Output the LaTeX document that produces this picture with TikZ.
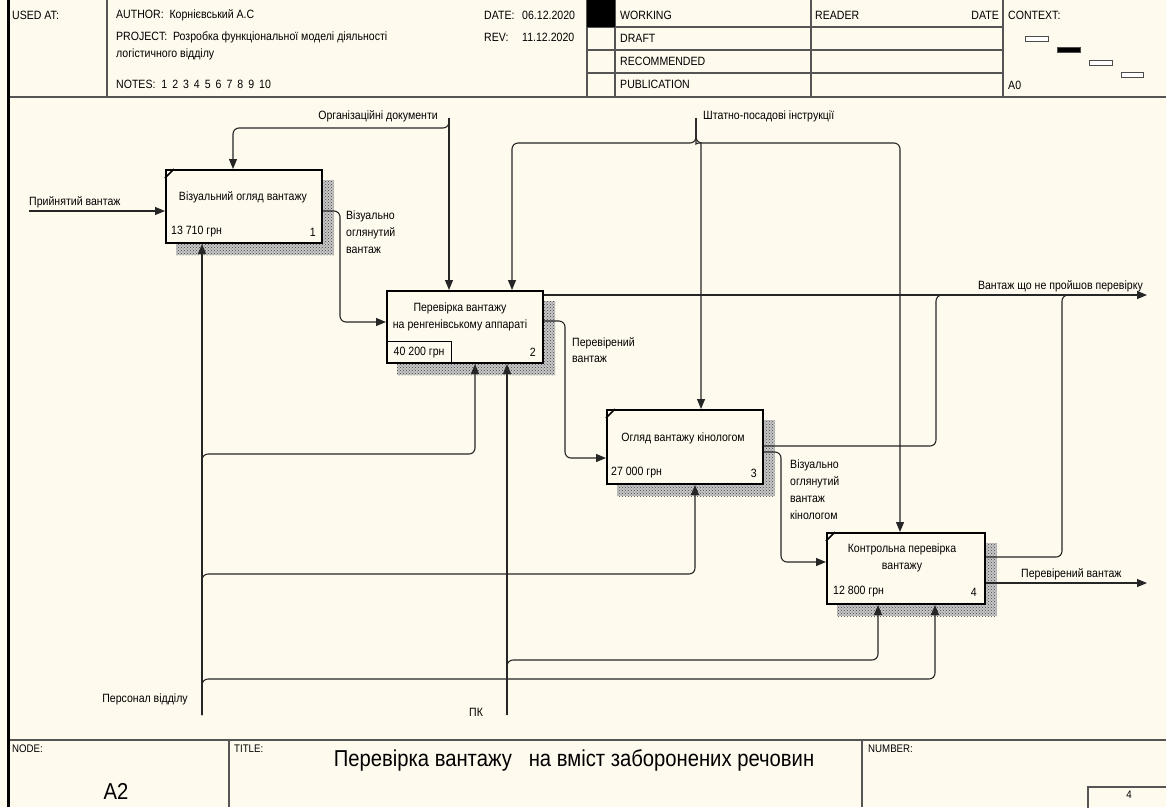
\documentclass[tikz,border=0pt]{standalone}
\usepackage{fontspec}
\setmainfont{Liberation Sans}[FakeStretch=0.88]
\usetikzlibrary{arrows.meta,calc,patterns}
\definecolor{paper}{RGB}{255,250,238}
\definecolor{rule}{RGB}{85,85,85}
\pgfdeclarelayer{bg}
\pgfdeclarelayer{back}
\pgfsetlayers{bg,back,main}

\begin{document}
\begin{tikzpicture}[x=1pt,y=-1pt,
  txt/.style={inner sep=0pt, font=\fontsize{12}{16.7}\selectfont, text=black},
  hdr/.style={inner sep=0pt, font=\fontsize{12}{14}\selectfont, anchor=west},
  act/.style={draw, line width=2pt, fill=paper, inner sep=0pt, anchor=north west},
  frame/.style={draw=rule, line width=1.3pt},
  con/.style={line width=1.1pt, draw=black!85, rounded corners=6pt},
  arr/.style={con, -{Triangle[length=10pt,width=8pt]}},
  mini/.style={draw=black!70, line width=0.8pt}
]
\begin{pgfonlayer}{bg}
  \fill[paper] (0,0) rectangle (1166,807);
\end{pgfonlayer}
\useasboundingbox (0,0) rectangle (1166,807);

% ---------- header frame ----------
\draw[frame] (8,97) -- (1166,97);
\foreach \xx in {107,587,615,811,1003} \draw[frame] (\xx,0) -- (\xx,97);
\foreach \yy in {27,50,73} \draw[frame] (587,\yy) -- (1003,\yy);
\fill[black] (587,0) rectangle (615,27);

\node[hdr] (usedat) at (12,15) {USED AT:};
\node[hdr] (author) at (116,15) {AUTHOR:\ \ Корнієвський А.С};
\node[hdr] (project) at (116,37) {PROJECT:\ \ Розробка функціональної моделі діяльності};
\node[hdr] (project2) at (116,54) {логістичного відділу};
\node[hdr] (notes) at (116,84) {NOTES:\ \ 1\hspace{5pt}2\hspace{5pt}3\hspace{5pt}4\hspace{5pt}5\hspace{5pt}6\hspace{5pt}7\hspace{5pt}8\hspace{5pt}9\hspace{5pt}10};
\node[hdr] (datek) at (484,15) {DATE:};
\node[hdr] (datev) at (522,15) {06.12.2020};
\node[hdr] (revk) at (484,37) {REV:};
\node[hdr] (revv) at (522,37) {11.12.2020};
\node[hdr] (working) at (620,15) {WORKING};
\node[hdr] (draft) at (620,38) {DRAFT};
\node[hdr] (recomm) at (620,61) {RECOMMENDED};
\node[hdr] (public) at (620,84) {PUBLICATION};
\node[hdr] (reader) at (815,15) {READER};
\node[hdr, anchor=east] (rdate) at (999,15) {DATE};
\node[hdr] (context) at (1008,15) {CONTEXT:};
\node[hdr] (azero) at (1008,85) {A0};
\draw[mini, fill=white] (1025,36) rectangle (1048,41);
\draw[mini, fill=black] (1057,47) rectangle (1080,52);
\draw[mini, fill=white] (1089,60) rectangle (1112,65);
\draw[mini, fill=white] (1121,72) rectangle (1143,77);

% ---------- footer frame ----------
\draw[frame] (8,740) -- (1166,740);
\draw[frame] (229,740) -- (229,807);
\draw[frame] (862,740) -- (862,807);
\draw[frame] (1088,787) rectangle (1170,812);
\node[hdr, font=\fontsize{11}{13}\selectfont] (nodek) at (12,749) {NODE:};
\node[hdr, font=\fontsize{11}{13}\selectfont] (titlek) at (234,749) {TITLE:};
\node[hdr, font=\fontsize{11}{13}\selectfont] (numk) at (868,749) {NUMBER:};
\node[inner sep=0pt, font=\fontsize{23}{26}\selectfont] (nodev) at (116,791) {A2};
\node[inner sep=0pt, font=\fontsize{23}{26}\selectfont] (title) at (574,760) {Перевірка вантажу\ \ \ на вміст заборонених речовин};
\node[inner sep=0pt, font=\fontsize{11}{13}\selectfont] (numv) at (1129,795) {4};

% left border
\draw[line width=3pt] (8,0) -- (8,807);

% ---------- activities ----------
\node[act, minimum width=156pt, minimum height=73pt] (b1) at (165,169) {};
\node[act, minimum width=156pt, minimum height=72pt] (b2) at (386,290) {};
\node[act, minimum width=156pt, minimum height=74pt] (b3) at (606,409) {};
\node[act, minimum width=158pt, minimum height=71pt] (b4) at (826,532) {};

\begin{pgfonlayer}{back}
  \foreach \b in {b1,b2,b3,b4} {
    \fill[black!22] ($(\b.north west)+(11,11)$) rectangle ($(\b.south east)+(11,11)$);
    \fill[pattern=crosshatch dots, pattern color=black!75] ($(\b.north west)+(11,11)$) rectangle ($(\b.south east)+(11,11)$);
  }
\end{pgfonlayer}

\foreach \b in {b1,b3,b4}
  \draw[line width=1.5pt] ($(\b.north west)+(0,9)$) -- ($(\b.north west)+(9,0)$);

\node[txt] (b1t) at (243,197) {Візуальний огляд вантажу};
\node[txt, anchor=west] (b1c) at (171,232) {13 710 грн};
\node[txt, anchor=east] (b1n) at (316,232) {1};

\node[txt, align=center] (b2t) at (460,317) {Перевірка вантажу\\на ренгенівському аппараті};
\node[txt, draw, line width=1.2pt, anchor=south west, minimum width=65pt, minimum height=22pt] (b2c) at (b2.south west) {40 200 грн};
\node[txt, anchor=east] (b2n) at (536,352) {2};

\node[txt] (b3t) at (683,438) {Огляд вантажу кінологом};
\node[txt, anchor=west] (b3c) at (611,473) {27 000 грн};
\node[txt, anchor=east] (b3n) at (757,473) {3};

\node[txt, align=center] (b4t) at (902,558) {Контрольна перевірка\\вантажу};
\node[txt, anchor=west] (b4c) at (833,592) {12 800 грн};
\node[txt, anchor=east] (b4n) at (977,592) {4};

% ---------- arrow labels ----------
\node[txt, anchor=east] (lorg) at (438,116) {Організаційні документи};
\node[txt, anchor=west] (lsht) at (703,116) {Штатно-посадові інструкції};
\node[txt, anchor=west] (lin) at (29,202) {Прийнятий вантаж};
\node[txt, anchor=north west, align=left] (lvis) at (346,211) {Візуально\\оглянутий\\вантаж};
\node[txt, anchor=north west, align=left] (lchk) at (572,337) {Перевірений\\вантаж};
\node[txt, anchor=east] (lrej) at (1143,286) {Вантаж що не пройшов перевірку};
\node[txt, anchor=north west, align=left] (lkin) at (790,460) {Візуально\\оглянутий\\вантаж\\кінологом};
\node[txt, anchor=west] (lout) at (1021,574) {Перевірений вантаж};
\node[txt, anchor=east] (lper) at (188,699) {Персонал відділу};
\node[txt, anchor=west] (lpk) at (469,712) {ПК};

% ---------- boundary points ----------
\coordinate (in1) at (29,211);
\coordinate (c1) at (449,118);
\coordinate (c2) at (696,118);
\coordinate (o1) at (1147,295);
\coordinate (o2) at (1147,583);
\coordinate (m1) at (202,715);
\coordinate (m2) at (507,715);

% inputs and outputs
\draw[arr] (in1) -- (in1 -| b1.west);
\draw[arr] ($(b1.north east)+(0,42)$) -- ++(17,0) |- ($(b2.north west)+(0,32)$);
\draw[arr] ($(b2.north east)+(0,5)$) -- (o1);
\draw[arr] ($(b2.north east)+(0,31)$) -- ++(21,0) |- ($(b3.north west)+(0,49)$);
\draw[con] ($(b3.north east)+(0,37)$) -| ($(o1)+(-211,0)$) -- ++(14,0);
\draw[arr] ($(b3.north east)+(0,43)$) -- ++(17,0) |- ($(b4.north west)+(0,30)$);
\draw[con] ($(b4.north east)+(0,25)$) -| ($(o1)+(-85,0)$) -- ++(14,0);
\draw[arr] ($(b4.north east)+(0,51)$) -- (o2);

% controls
\draw[arr] (c1) -- (c1 |- b2.north);
\draw[arr] (c1) -- ++(0,10) -| ($(b1.north west)+(68,0)$);
\draw[arr] (c2) -- ++(0,25) -| ($(b2.north west)+(126,0)$);
\draw[arr] (c2) -- ++(0,25) -| ($(b4.north west)+(74,0)$);
\draw[arr] (c2) -- ($(c2)+(0,20)$) .. controls ($(c2)+(0,25)$) and ($(c2)+(5,25)$) .. ($(c2)+(5,31)$) -- ($(b3.north west)+(95,0)$);

% mechanisms
\draw[arr] (m1) -- (m1 |- b1.south);
\draw[arr] (m1) |- ($(b2.south west)+(89,90)$) -- ($(b2.south west)+(89,0)$);
\draw[arr] (m1) |- ($(b3.south west)+(89,89)$) -- ($(b3.south west)+(89,0)$);
\draw[arr] (m1) |- ($(b4.south west)+(109,74)$) -- ($(b4.south west)+(109,0)$);
\draw[arr] (m2) -- (m2 |- b2.south);
\draw[arr] (m2) |- ($(b4.south west)+(52,55)$) -- ($(b4.south west)+(52,0)$);
\end{tikzpicture}
\end{document}
